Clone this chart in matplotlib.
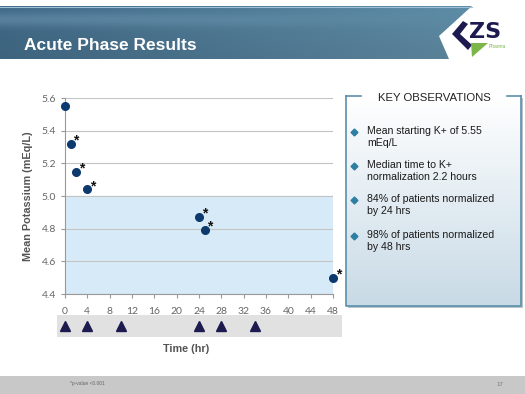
import matplotlib
matplotlib.use("Agg")
import matplotlib.pyplot as plt
import numpy as np
from matplotlib.patches import Polygon, Rectangle

# --- data ---
hours = [0, 1, 2, 4, 24, 25, 48]
potassium = [5.55, 5.32, 5.15, 5.04, 4.87, 4.79, 4.50]
significant = [False, True, True, True, True, True, True]
dose_hours = [0, 4, 10, 24, 28, 34]
normal_range = (4.4, 5.0)
x_ticks = list(range(0, 49, 4))
y_ticks = [4.4, 4.6, 4.8, 5.0, 5.2, 5.4, 5.6]

title = "Acute Phase Results"
box_title = "KEY OBSERVATIONS"
observations = [
    "Mean starting K+ of 5.55\nmEq/L",
    "Median time to K+\nnormalization 2.2 hours",
    "84% of patients normalized\nby 24 hrs",
    "98% of patients normalized\nby 48 hrs",
]
obs_y = [132, 166, 200, 236]
footnote = "*p-value <0.001"
page_no = "17"

W, H = 525, 394
fig = plt.figure(figsize=(W / 100, H / 100), dpi=100)
plt.rcParams['font.family'] = ['Liberation Sans', 'DejaVu Sans']


def px_axes(x0, y0, x1, y1):
    # pixel box (top-left origin) -> figure fraction
    return [x0 / W, 1 - y1 / H, (x1 - x0) / W, (y1 - y0) / H]


# --- slide background: banner, logo, box, footer ---
bg = fig.add_axes([0, 0, 1, 1], zorder=0)
bg.set_xlim(0, W); bg.set_ylim(H, 0); bg.axis('off')

banner = Polygon([(0, 6), (472, 6), (439, 36), (449, 59), (0, 59)], closed=True,
                 facecolor='none', edgecolor='none')
bg.add_patch(banner)
gx = np.linspace(0, 1, 200)
gy = np.linspace(0, 1, 40)[:, None]
c_left = np.array([62, 104, 134]) / 255
c_right = np.array([94, 140, 166]) / 255
grad = c_left[None, None, :] * (1 - gx[None, :, None]) + c_right[None, None, :] * gx[None, :, None]
grad = grad * (1 - 0.12 * gy[..., None]) + 0.12 * gy[..., None] * 0.25
grad = np.clip(grad + 0.10 * np.exp(-((gy[..., None] - 0.25) ** 2) / 0.02) * (1 - gx[None, :, None]), 0, 1)
im = bg.imshow(grad, extent=(0, 472, 59, 6), aspect='auto', zorder=1)
im.set_clip_path(banner)
bg.plot([0, 472], [6.5, 6.5], color='#9fc0d4', lw=0.8, zorder=2)
bg.text(24, 45, title, color='white', fontsize=12.5, fontweight='bold', va='center', ha='left', zorder=3)

# logo
bg.add_patch(Polygon([(463, 21), (452, 34), (468, 50), (472, 45), (460, 34), (468, 24)],
                     facecolor='#1d1a4f', edgecolor='none', zorder=3))
bg.add_patch(Polygon([(471, 43), (488, 43), (472, 57)], facecolor='#7ab648', edgecolor='none', zorder=3))
bg.text(469, 32, "ZS", color='#1d1a4f', fontsize=16, fontweight='bold', family='DejaVu Sans',
        va='center', ha='left', zorder=3)
bg.text(489, 46, "Pharma", color='#7ab648', fontsize=3.5, va='center', ha='left', zorder=3)

# observations box
bx0, by0, bx1, by1 = 346, 96, 521, 306
bg.add_patch(Rectangle((bx0 + 2, by0 + 2), bx1 - bx0, by1 - by0, facecolor='#b9c3ca', edgecolor='none', zorder=1))
vg = np.linspace(0, 1, 100)[:, None, None]
top_c = np.array([1.0, 1.0, 1.0])
bot_c = np.array([200, 218, 230]) / 255
box_grad = top_c * (1 - vg) + bot_c * vg
bg.imshow(np.repeat(box_grad, 2, axis=1), extent=(bx0, bx1, by1, by0), aspect='auto', zorder=2)
edge = '#5b8fab'
bg.plot([bx0, bx0, bx1, bx1], [by0, by1, by1, by0], color=edge, lw=1.2, zorder=3)
bg.plot([bx0, 361], [by0, by0], color=edge, lw=1.2, zorder=3)
bg.plot([507, bx1], [by0, by0], color=edge, lw=1.2, zorder=3)
bg.text(434, 98, box_title, fontsize=8.2, color='#222222', ha='center', va='center', zorder=4)
for txt, yy in zip(observations, obs_y):
    bg.plot(354, yy, marker='D', markersize=3.5, color='#2e7fa3', zorder=4)
    bg.text(367, yy - 6, txt, fontsize=7.6, color='#1a1a1a', ha='left', va='top',
            linespacing=1.25, zorder=4)

# footer
bg.add_patch(Rectangle((0, 376), W, H - 376, facecolor='#c8c8c8', edgecolor='none', zorder=1))
bg.text(70, 384, footnote, fontsize=3.5, color='#666666', va='center', zorder=2)
bg.text(500, 384, page_no, fontsize=4.5, color='#777777', va='center', ha='center', zorder=2)

# --- main scatter ---
ax = fig.add_axes(px_axes(65, 98, 333, 294), zorder=2)
ax.patch.set_alpha(0)
ax.axhspan(*normal_range, color='#d6ebf7', zorder=0)
ax.set_xlim(0, 48)
ax.set_ylim(4.4, 5.6)
ax.set_yticks(y_ticks)
ax.set_yticklabels([f"{v:.1f}" for v in y_ticks])
ax.set_xticks(x_ticks)
ax.grid(axis='y', color='#c4c4c4', lw=0.8, zorder=1)
for s in ['top', 'right']:
    ax.spines[s].set_visible(False)
ax.spines['left'].set_color('#999999')
ax.spines['bottom'].set_color('#999999')
ax.tick_params(axis='both', colors='#999999', labelcolor='#666666', labelsize=7.5, length=3, width=0.8)
ax.tick_params(axis='x', pad=6)
for lab in ax.get_xticklabels() + ax.get_yticklabels():
    lab.set_family(['Lato', 'DejaVu Sans'])
ax.plot(hours, potassium, 'o', color='#0d3a6e', markersize=5.5, clip_on=False, zorder=3)
for h, k, sig in zip(hours, potassium, significant):
    if sig:
        ax.annotate("*", (h, k), xytext=(4, 2.5), textcoords='offset points', fontsize=10,
                    fontweight='bold', color='#111111', ha='center', va='center',
                    annotation_clip=False)
ax.set_ylabel("Mean Potassium (mEq/L)", fontsize=7.8, fontweight='bold', color='#555555', labelpad=6)

# dosing triangles strip
sx0, sx1 = 57, 342
scale = (333 - 65) / 48
strip = fig.add_axes(px_axes(sx0, 315, sx1, 337), zorder=2)
strip.set_facecolor('#e1e1e1')
strip.set_xlim((sx0 - 65) / scale, (sx1 - 65) / scale)
strip.set_ylim(0, 1)
strip.plot(dose_hours, [0.5] * len(dose_hours), '^', color='#1d1a4f', markersize=6.5)
strip.set_xticks([]); strip.set_yticks([])
for s in strip.spines.values():
    s.set_visible(False)

fig.text(186 / W, 1 - 349 / H, "Time (hr)", fontsize=7.8, fontweight='bold', color='#555555',
         ha='center', va='center')

fig.savefig("out.png", dpi=100)
